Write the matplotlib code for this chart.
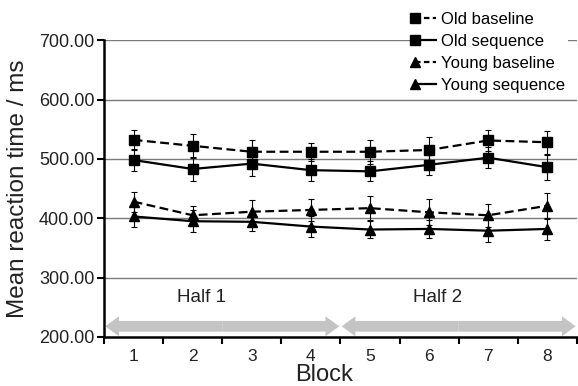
import numpy as np
import matplotlib
matplotlib.use("Agg")
import matplotlib.pyplot as plt
from matplotlib.legend_handler import HandlerLine2D
from matplotlib.patches import FancyArrowPatch
from matplotlib.ticker import FormatStrFormatter

plt.rcParams['font.family'] = ['Liberation Sans', 'DejaVu Sans']

blocks = [1, 2, 3, 4, 5, 6, 7, 8]

old_base = [532, 522, 512, 512, 512, 515, 531, 528]
old_base_err = [17, 20, 20, 15, 20, 22, 17, 19]
old_seq = [498, 483, 492, 481, 479, 490, 502, 486]
old_seq_err = [19, 21, 20, 19, 17, 17, 18, 21]
young_base = [428, 405, 411, 414, 417, 410, 405, 421]
young_base_err = [17, 15, 20, 19, 20, 22, 19, 22]
young_seq = [403, 395, 394, 386, 381, 382, 379, 382]
young_seq_err = [17, 19, 15, 17, 14, 15, 19, 18]

halves = ['Half 1', 'Half 2']


class HandlerLeft(HandlerLine2D):
    # marker sits at the left end of the legend line
    def create_artists(self, *args, **kwargs):
        arts = super().create_artists(*args, **kwargs)
        for a in arts:
            a.set_markevery([0])
        return arts


fig = plt.figure(figsize=(5.78, 3.86), dpi=100)
ax = fig.add_axes([0.18, 0.127, 0.818, 0.769])

for y in [300, 400, 500, 600, 700]:
    ax.axhline(y, color='#7a7a7a', lw=1.0, zorder=0)

x = np.array(blocks)
series = [
    (old_base, old_base_err, 's', (0, (4, 2)), 'Old baseline'),
    (old_seq, old_seq_err, 's', '-', 'Old sequence'),
    (young_base, young_base_err, '^', (0, (4, 2)), 'Young baseline'),
    (young_seq, young_seq_err, '^', '-', 'Young sequence'),
]
handles = []
for vals, err, mk, ls, lab in series:
    ax.errorbar(x, vals, yerr=err, fmt='none', ecolor='black', elinewidth=0.8,
                capsize=2, capthick=0.8, zorder=2)
    h, = ax.plot(x, vals, color='black', ls=ls, lw=1.6, marker=mk,
                 markersize=7 if mk == 's' else 7.5, label=lab, zorder=3)
    handles.append(h)

ax.set_xlim(0.5, 8.5)
ax.set_ylim(200, 700)
ax.set_yticks([200, 300, 400, 500, 600, 700])
ax.yaxis.set_major_formatter(FormatStrFormatter('%.2f'))
ax.set_xticks(x)
ax.set_xticks(np.arange(0.5, 9, 1), minor=True)
ax.tick_params(axis='x', which='major', length=0, labelsize=12.5, pad=9, labelcolor='#222222')
ax.tick_params(axis='x', which='minor', length=5, width=1.5, direction='out')
ax.tick_params(axis='y', length=5, width=1.5, labelsize=13, pad=2, labelcolor='#222222')

for s in ['top', 'right']:
    ax.spines[s].set_visible(False)
for s in ['left', 'bottom']:
    ax.spines[s].set_linewidth(1.8)

ax.set_ylabel('Mean reaction time / ms', fontsize=17.5, color='#222222', labelpad=7)
ax.set_xlabel('Block', fontsize=17, color='#222222', labelpad=0)
ax.xaxis.set_label_coords(0.465, -0.09)

# half arrows
spans = [(0.5, 4.5), (4.5, 8.5)]
for (a, b), name in zip(spans, halves):
    mid = (a + b) / 2
    for end in (a + 0.02, b - 0.02):
        arr = FancyArrowPatch((mid, 218), (end, 218),
                              arrowstyle='simple,head_width=1.3,head_length=0.9,tail_width=0.7',
                              mutation_scale=11, color='#c4c4c4', lw=0,
                              shrinkA=0, shrinkB=0, clip_on=False, zorder=1)
        ax.add_patch(arr)
    ax.text(mid - 0.35, 266, name, ha='center', va='center', fontsize=13.5, color='#222222')

leg = fig.legend(handles=handles, loc='upper right', bbox_to_anchor=(0.997, 1.0),
                 fontsize=12, handlelength=1.25, handletextpad=0.3, labelspacing=0.42,
                 frameon=True, fancybox=False, borderpad=0.2,
                 handler_map={h: HandlerLeft(numpoints=1) for h in handles})
leg.get_frame().set_edgecolor('none')
leg.get_frame().set_facecolor('white')
leg.get_frame().set_alpha(1)
for h in leg.legend_handles:
    h.set_markersize(6.5)
    if h.get_linestyle() != '-':
        h.set_dashes((2.5, 1.5))

fig.savefig('out.png', dpi=100)
